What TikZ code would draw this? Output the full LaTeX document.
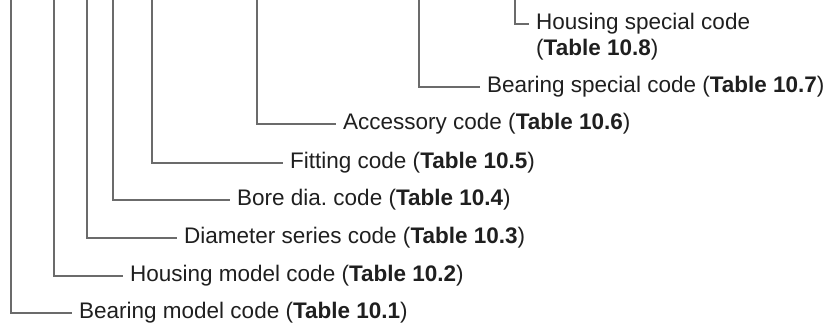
\documentclass[tikz,border=0pt]{standalone}
\usepackage{fontspec}
\setmainfont{Liberation Sans}
\usetikzlibrary{positioning}

\begin{document}
\begin{tikzpicture}[
  x=1pt, y=-1pt,
  lbl/.style={anchor=west, inner xsep=7pt, inner ysep=0pt, text=black!88,
    font=\fontsize{22.5}{27}\selectfont},
  lead/.style={draw=black!58, line width=1.1pt}
]
  \useasboundingbox (0,0) rectangle (829,327);

  %% Bearing model code
  \coordinate (bmc top) at (11,0);
  \node[lbl] (bmc) at (72,313) {Bearing model code (\textbf{Table 10.1})};
  \draw[lead] (bmc top) |- (bmc.west);

  %% Housing model code
  \coordinate (hmc top) at (54,0);
  \node[lbl] (hmc) at (123,276) {Housing model code (\textbf{Table 10.2})};
  \draw[lead] (hmc top) |- (hmc.west);

  %% Diameter series code
  \coordinate (dsc top) at (87,0);
  \node[lbl] (dsc) at (177,238) {Diameter series code (\textbf{Table 10.3})};
  \draw[lead] (dsc top) |- (dsc.west);

  %% Bore dia. code
  \coordinate (bdc top) at (113,0);
  \node[lbl] (bdc) at (230,200) {Bore dia.\ code (\textbf{Table 10.4})};
  \draw[lead] (bdc top) |- (bdc.west);

  %% Fitting code
  \coordinate (ftc top) at (152,0);
  \node[lbl] (ftc) at (283,163) {Fitting code (\textbf{Table 10.5})};
  \draw[lead] (ftc top) |- (ftc.west);

  %% Accessory code
  \coordinate (acc top) at (257,0);
  \node[lbl] (acc) at (336,124) {Accessory code (\textbf{Table 10.6})};
  \draw[lead] (acc top) |- (acc.west);

  %% Bearing special code
  \coordinate (bsc top) at (419,0);
  \node[lbl] (bsc) at (480,87) {Bearing special code (\textbf{Table 10.7})};
  \draw[lead] (bsc top) |- (bsc.west);

  %% Housing special code (two lines)
  \coordinate (hsc top) at (515,0);
  \node[lbl] (hsc) at (529,24) {Housing special code};
  \node[lbl, anchor=base west] (hsc tab) at ([yshift=-26pt]hsc.base west)
    {(\textbf{Table 10.8})};
  \draw[lead] (hsc top) |- (hsc.west);

\end{tikzpicture}
\end{document}
